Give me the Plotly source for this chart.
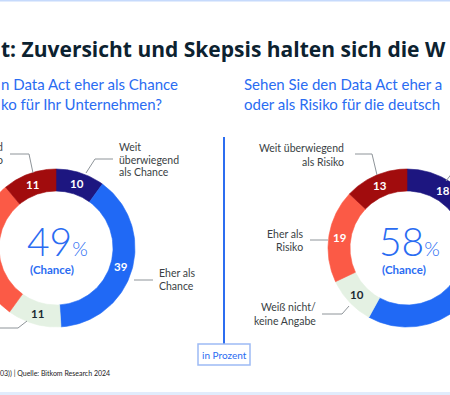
import numpy as np
import plotly.graph_objects as go

# ---------------- data ----------------
categories = ["Weit überwiegend als Chance", "Eher als Chance", "Weiß nicht/keine Angabe",
              "Eher als Risiko", "Weit überwiegend als Risiko"]
values_company = [10, 39, 11, 29, 11]      # left donut: eigenes Unternehmen
values_economy = [18, 40, 10, 19, 13]      # right donut: deutsche Wirtschaft
chance_company = 49
chance_economy = 58

colors = ["#1d1680", "#2069f5", "#e4f1e3", "#fb5a46", "#a10c0d"]
text_colors = ["white", "white", "#1b2a33", "white", "white"]

W, H = 450, 395
FONT = "Lato"
BLUE = "#2a6cf2"
GREY = "#3a3f44"

fig = go.Figure()


def ring(cx, cy, vals, r_in=57, r_out=79, label_r=68):
    total = float(sum(vals))
    start = 0.0
    for v, col, tcol in zip(vals, colors, text_colors):
        a0 = start / total * 360.0
        a1 = (start + v) / total * 360.0
        start += v
        ang = np.radians(np.linspace(a0, a1, 80))
        xo = cx + r_out * np.sin(ang)
        yo = cy - r_out * np.cos(ang)
        xi = cx + r_in * np.sin(ang[::-1])
        yi = cy - r_in * np.cos(ang[::-1])
        fig.add_trace(go.Scatter(
            x=np.concatenate([xo, xi, xo[:1]]), y=np.concatenate([yo, yi, yo[:1]]),
            mode="lines", fill="toself", fillcolor=col,
            line=dict(color=col, width=0.6), hoverinfo="skip", showlegend=False))
        mid = np.radians((a0 + a1) / 2)
        fig.add_annotation(x=cx + label_r * np.sin(mid), y=cy - label_r * np.cos(mid),
                           text=f"<b>{v}</b>", showarrow=False,
                           font=dict(family=FONT, size=11.5, color=tcol))


ring(56, 248, values_company)
ring(407, 248, values_economy)

# center texts
for cx, pct in [(57, chance_company), (409, chance_economy)]:
    fig.add_annotation(x=cx, y=241, text=f"{pct}<span style='font-size:20px'>%</span>",
                       showarrow=False, font=dict(family=FONT, size=39, color=BLUE, weight=300))
for cx in [52, 404]:
    fig.add_annotation(x=cx, y=269, text="<b>(Chance)</b>", showarrow=False,
                       font=dict(family=FONT, size=11.5, color=BLUE))


def lines(x, ys, texts, anchor):
    for y, t in zip(ys, texts):
        fig.add_annotation(x=x, y=y, text=t, showarrow=False, xanchor=anchor,
                           font=dict(family=FONT, size=10.5, color=GREY))


def leader(pts):
    path = "M " + " L ".join(f"{px},{py}" for px, py in pts)
    fig.add_shape(type="path", path=path, xref="x", yref="y",
                  line=dict(color="#8e9499", width=1))


# left donut labels
lines(117, [147, 159.5, 172], ["Weit", "überwiegend", "als Chance"], "left")
leader([(86, 173), (95, 159), (113, 159)])
lines(157, [273, 285.5], ["Eher als", "Chance"], "left")
leader([(134, 280), (153, 280)])
lines(5, [147, 160], ["Weit überwiegend", "als Risiko"], "right")
leader([(33, 173), (29, 154), (10, 154)])
leader([(27, 321), (18, 328), (-5, 328)])

# right donut labels
lines(346, [148, 161.5], ["Weit überwiegend", "als Risiko"], "right")
leader([(355, 154), (372, 154), (377, 175)])
lines(305, [234, 247], ["Eher als", "Risiko"], "right")
leader([(310, 240), (328, 240)])
lines(318, [307, 320.5], ["Weiß nicht/", "keine Angabe"], "right")
leader([(322, 314), (342, 314), (349, 306)])
leader([(446, 181), (456, 168)])

# title and subtitles (visible part of a wider graphic)
fig.add_annotation(x=0, xshift=-1, y=49, text="<b>t: Zuversicht und Skepsis halten sich die W</b>",
                   showarrow=False, xanchor="left",
                   font=dict(family="Open Sans", size=21, color="#0c2230"))
for y, t in [(84, "n Data Act eher als Chance"), (104, "ko für Ihr Unternehmen?")]:
    fig.add_annotation(x=0, xshift=-1, y=y, text=t, showarrow=False, xanchor="left",
                       font=dict(family=FONT, size=15, color=BLUE))
for y, t in [(84, "Sehen Sie den Data Act eher a"), (104, "oder als Risiko für die deutsch")]:
    fig.add_annotation(x=242, y=y, text=t, showarrow=False, xanchor="left",
                       font=dict(family=FONT, size=15, color=BLUE))

# divider and unit box
fig.add_shape(type="line", x0=224, x1=224, y0=137, y1=344, xref="x", yref="y",
              line=dict(color="#2c6df0", width=2))
fig.add_shape(type="rect", x0=198, x1=250, y0=344, y1=365, xref="x", yref="y",
              line=dict(color="#9dbaf5", width=1.5), fillcolor="white")
fig.add_annotation(x=224, y=355, text="in Prozent", showarrow=False,
                   font=dict(family=FONT, size=10, color=BLUE))

# footer
fig.add_annotation(x=0, xshift=-2, y=373, text="03)) | Quelle: Bitkom Research 2024",
                   showarrow=False, xanchor="left",
                   font=dict(family=FONT, size=7, color="#222"))

# frame lines
fig.add_shape(type="line", x0=0, x1=W, y0=0.5, y1=0.5, xref="x", yref="y",
              line=dict(color="#c6dafc", width=2))
fig.add_shape(type="rect", x0=0, x1=W, y0=392, y1=396, xref="x", yref="y",
              line=dict(width=0), fillcolor="#e1ecfc")

fig.update_layout(
    width=W, height=H, margin=dict(l=0, r=0, t=0, b=0),
    paper_bgcolor="white", plot_bgcolor="white",
    xaxis=dict(range=[0, W], visible=False, fixedrange=True),
    yaxis=dict(range=[H, 0], visible=False, fixedrange=True),
    showlegend=False,
)

fig.write_html("out.html", config={"displayModeBar": False},
               post_script="document.body.style.margin='0';document.body.style.overflow='hidden';")
